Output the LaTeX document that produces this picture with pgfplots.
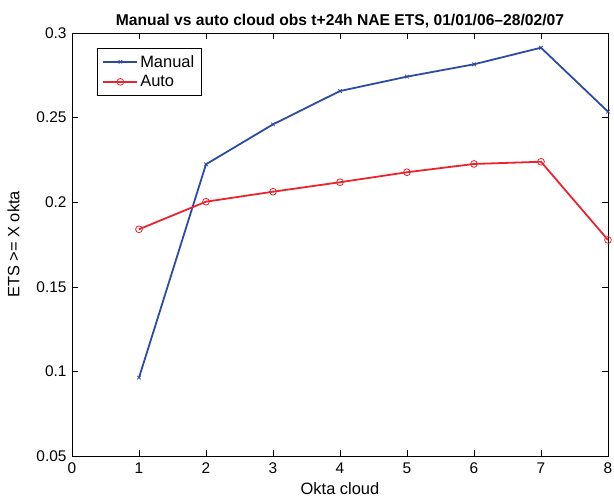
\documentclass[border=0pt]{standalone}
\usepackage{fontspec}
\setmainfont{Liberation Sans}
\usepackage{pgfplots}
\pgfplotsset{compat=1.18}
\definecolor{manualblue}{RGB}{45,75,165}
\definecolor{autored}{RGB}{235,35,45}

\begin{document}
\begin{tikzpicture}
    \useasboundingbox (-72bp,-43bp) rectangle (542bp,456bp);
    \begin{axis}[
        at={(0,0)}, anchor=south west,
        scale only axis,
        width=536bp, height=423bp,
        xmin=0, xmax=8,
        ymin=0.05, ymax=0.3,
        xtick={0,1,...,8},
        ytick={0.05,0.1,0.15,0.2,0.25,0.3},
        tick align=inside,
        major tick length=6bp,
        tick style={black, line width=0.6pt},
        axis line style={black, line width=0.8pt},
        /pgf/number format/assume math mode=true,
        /pgf/number format/fixed,
        /pgf/number format/precision=2,
        tick label style={font=\fontsize{15.5}{17}\selectfont},
        xticklabel style={yshift=-3bp},
        yticklabel style={xshift=-2bp},
        xlabel={Okta cloud},
        ylabel={ETS >= X okta},
        label style={font=\fontsize{16.5}{18}\selectfont},
        xlabel style={yshift=-2bp},
        ylabel style={yshift=10bp},
        title={Manual vs auto cloud obs t+24h NAE ETS, 01/01/06–28/02/07},
        title style={font=\bfseries\fontsize{15.7}{17}\selectfont, yshift=-4bp},
        legend style={
            at={(0.047,0.965)}, anchor=north west,
            draw=black, line width=0.6pt,
            font=\fontsize{16.5}{18}\selectfont,
            row sep=3bp, inner sep=5bp,
        },
        legend image code/.code={
            \draw[mark repeat=2, mark phase=2]
                plot coordinates {(0cm,0cm) (0.6cm,0cm) (1.2cm,0cm)};
        },
        legend cell align=left,
    ]
        \addplot[manualblue, line width=1.8pt, mark=x, mark size=2.5pt,
                 mark options={line width=0.8pt}] coordinates {
            (1,0.0963)
            (2,0.2224)
            (3,0.2460)
            (4,0.2657)
            (5,0.2742)
            (6,0.2815)
            (7,0.2913)
            (8,0.2535)
        };
        \addlegendentry{Manual}
        \addplot[autored, line width=1.8pt, mark=o, mark size=3.4pt,
                 mark options={line width=0.8pt}] coordinates {
            (1,0.1840)
            (2,0.2003)
            (3,0.2062)
            (4,0.2118)
            (5,0.2177)
            (6,0.2226)
            (7,0.2239)
            (8,0.1777)
        };
        \addlegendentry{Auto}
    \end{axis}
\end{tikzpicture}
\end{document}
